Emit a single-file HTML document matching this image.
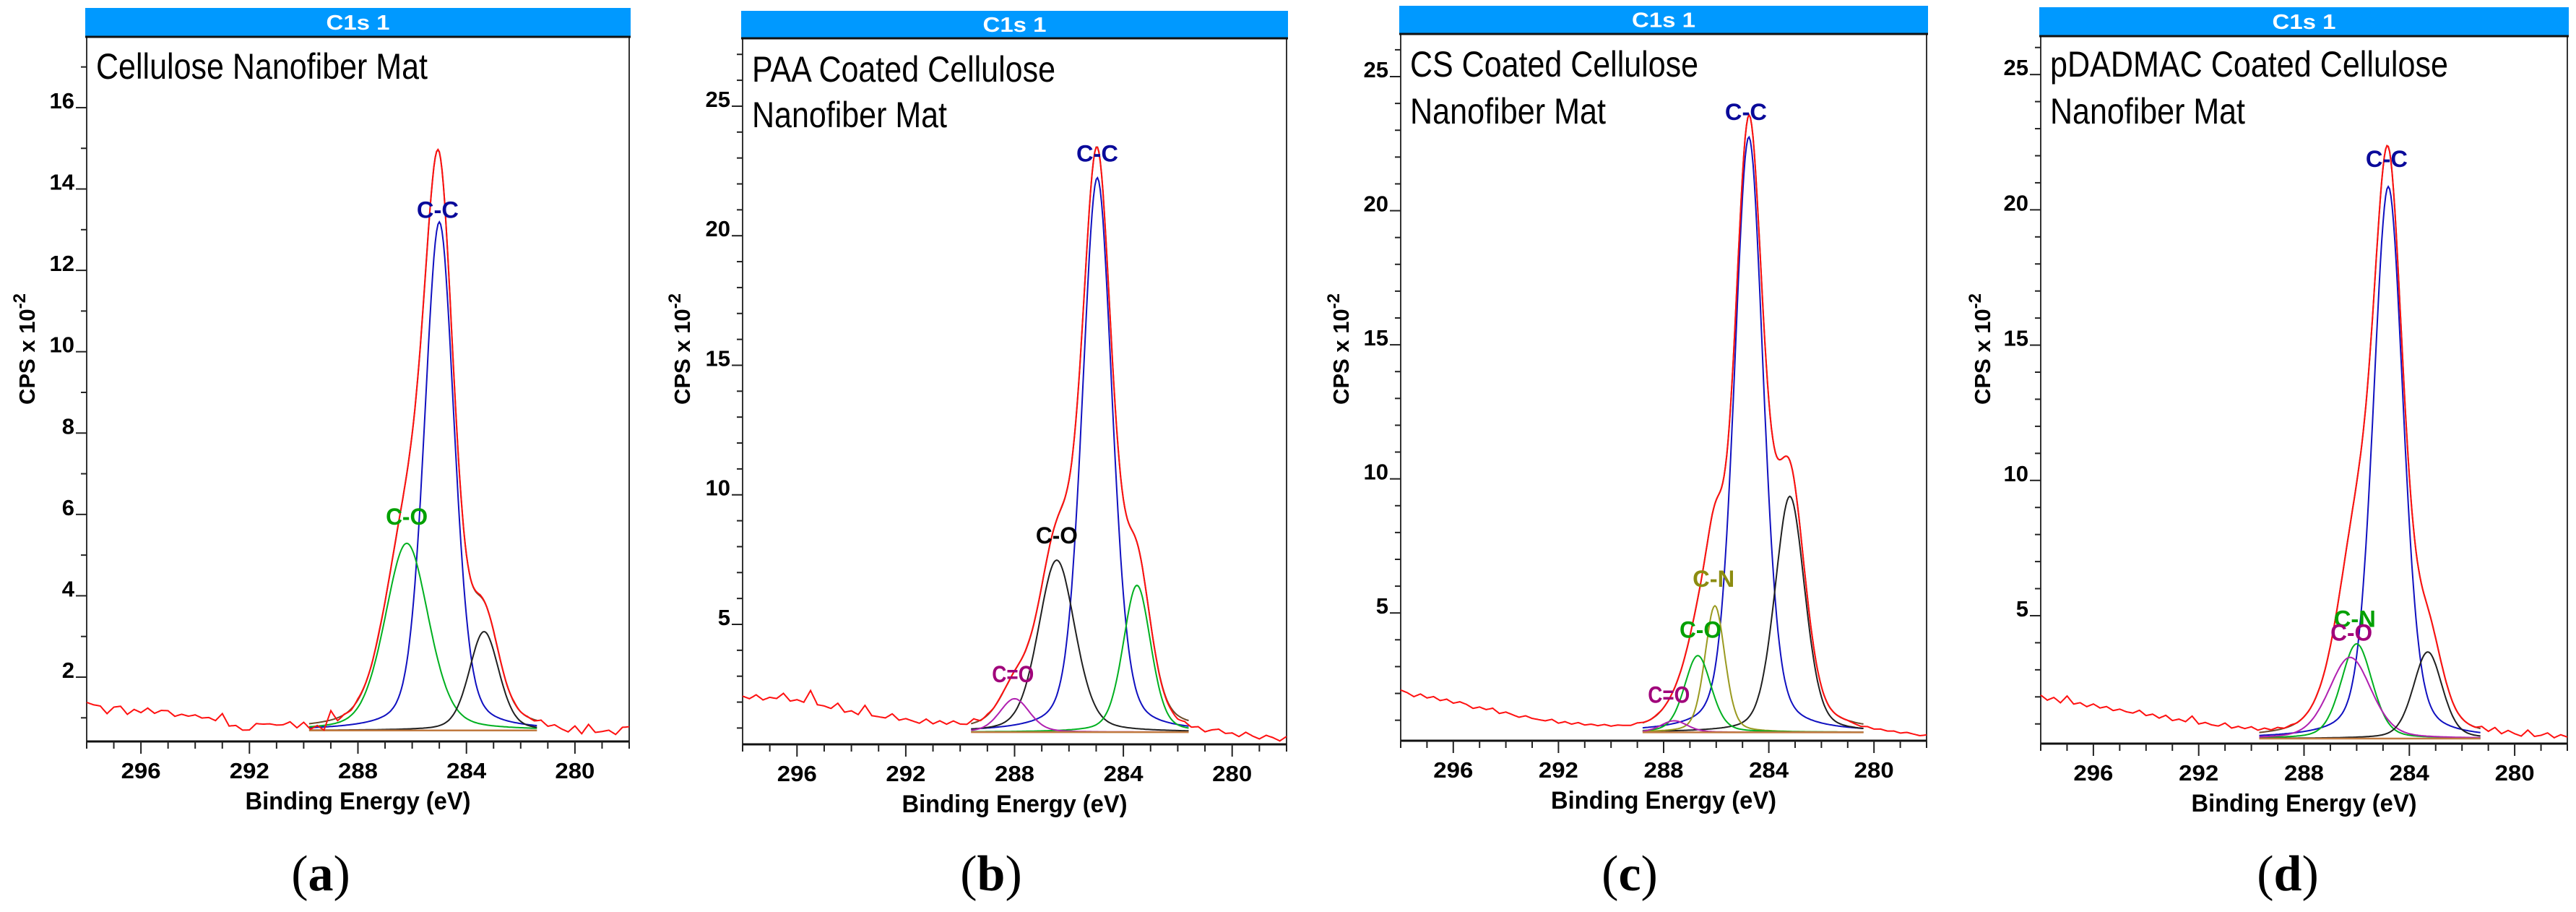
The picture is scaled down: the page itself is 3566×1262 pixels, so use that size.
<!DOCTYPE html>
<html><head><meta charset="utf-8"><style>
html,body{margin:0;padding:0;background:#fff}
svg{display:block}
</style></head><body>
<svg id="chart" xmlns="http://www.w3.org/2000/svg" width="3566" height="1262" viewBox="0 0 3566 1262" font-family="Liberation Sans, Arial, sans-serif"></svg>
<script>
// ---------- DATA ----------
const panelLetters = ["a","b","c","d"];
const titlesLine1 = ["Cellulose Nanofiber Mat","PAA Coated Cellulose","CS Coated Cellulose","pDADMAC Coated Cellulose"];
const titlesLine2 = ["","Nanofiber Mat","Nanofiber Mat","Nanofiber Mat"];
const xTickLabels = [296,292,288,284,280];
const yTicksA = [2,4,6,8,10,12,14,16];
const yTicksB = [5,10,15,20,25];
const yTicksC = [5,10,15,20,25];
const yTicksD = [5,10,15,20,25];

const aPeakNames = ["C-C","C-O","C-x"];
const aCenters = [285.0,286.2,283.35];
const aHeights = [12.5,4.6,2.43];
const aFwhm = [1.3,1.9,1.3];
const aBaseline = [0.69];
const aRange = [289.8,281.4];
const aBackground = [1.36,1.30,1.27,1.08,1.24,1.26,1.06,1.18,1.10,1.21,1.08,1.15,1.14,1.00,1.05,1.00,1.03,0.95,0.96,0.88,1.05,0.74,0.75,0.63,0.63,0.78,0.76,0.76,0.72,0.72,0.78,0.62,0.74,0.55,0.62,0.48,0.92,0.62,0.70,0.66,0.72,
 0.70,0.68,0.72,0.69,0.70,0.71,0.68,0.69,0.70,0.72,0.68,0.70,0.69,0.71,0.70,0.68,0.70,0.72,0.69,0.70,0.70,0.68,0.71,0.69,0.70,0.66,0.72,0.60,0.66,0.58,0.52,0.68,0.50,0.74,0.55,0.58,0.62,0.52,0.70,0.72];

const bPeakNames = ["C-C","C-O","C-x","C=O"];
const bCenters = [284.96,286.45,283.5,288.0];
const bHeights = [21.4,6.64,5.67,1.29];
const bFwhm = [1.3,1.6,1.2,1.3];
const bBaseline = [0.84];
const bRange = [289.6,281.6];
const bBackground = [2.20,2.10,2.25,2.05,2.15,2.10,2.30,2.00,2.05,1.95,2.40,1.85,1.80,1.70,1.90,1.55,1.60,1.45,1.80,1.40,1.35,1.30,1.45,1.20,1.25,1.15,1.05,1.20,1.00,1.10,0.95,1.05,0.90,0.85,1.00,0.82,0.88,0.84,0.86,0.83,0.85,
 0.84,0.86,0.83,0.85,0.84,0.84,0.86,0.83,0.84,0.85,0.84,0.83,0.85,0.84,0.86,0.84,0.83,0.85,0.84,0.84,0.82,0.80,0.78,0.70,0.75,0.62,0.70,0.55,0.66,0.72,0.58,0.62,0.50,0.68,0.55,0.45,0.60,0.52,0.40,0.58];

const cPeakNames = ["C-C","C-x","C-N","C-O","C=O"];
const cCenters = [284.76,283.2,286.05,286.7,287.6];
const cHeights = [22.2,8.8,4.72,2.86,0.43];
const cFwhm = [1.3,1.35,0.9,1.2,1.2];
const cBaseline = [0.55];
const cRange = [288.8,280.4];
const cBackground = [2.10,2.00,1.85,1.95,1.80,1.85,1.70,1.75,1.60,1.65,1.55,1.40,1.45,1.35,1.40,1.20,1.25,1.15,1.05,1.10,1.00,0.95,0.90,0.95,0.80,0.85,0.75,0.80,0.70,0.72,0.65,0.68,0.60,0.62,0.58,0.55,0.60,0.56,0.55,0.57,0.55,
 0.55,0.56,0.55,0.54,0.55,0.56,0.55,0.55,0.54,0.55,0.56,0.55,0.55,0.54,0.55,0.56,0.55,0.55,0.55,0.54,0.55,0.56,0.55,0.55,0.54,0.55,0.56,0.55,0.50,0.45,0.48,0.42,0.45,0.40,0.42,0.36,0.40,0.35,0.30,0.34];

const dPeakNames = ["C-C","C-N","C-O","C-x"];
const dCenters = [284.8,286.0,286.25,283.3];
const dHeights = [20.4,3.5,3.0,3.2];
const dFwhm = [1.35,1.4,1.9,1.3];
const dBaseline = [0.46];
const dRange = [289.7,281.3];
const dBackground = [2.04,1.85,1.95,1.75,2.00,1.70,1.75,1.60,1.70,1.55,1.60,1.45,1.50,1.40,1.35,1.45,1.25,1.30,1.15,1.25,1.05,1.10,1.00,1.20,0.90,0.95,0.85,0.80,0.90,0.70,0.75,0.65,0.70,0.55,0.60,0.50,0.55,0.46,0.50,0.45,0.46,
 0.46,0.47,0.45,0.46,0.46,0.47,0.46,0.45,0.46,0.46,0.47,0.46,0.46,0.45,0.46,0.46,0.47,0.46,0.46,0.45,0.46,0.46,0.45,0.47,0.46,0.45,0.55,0.42,0.60,0.40,0.55,0.45,0.38,0.62,0.40,0.45,0.55,0.38,0.50,0.42];

const aLabelPos = [[285.06,13.5],[286.2,5.96]];
const bLabelPos = [[284.96,23.2],[286.45,8.46],null,[288.06,3.1]];
const cLabelPos = [[284.87,23.7],null,[286.1,6.3],[286.6,4.4],[287.8,1.98]];
const dLabelPos = [[284.86,21.9],[286.07,4.9],[286.2,4.4],null];

// ---------- STYLE / GEOMETRY ----------
const panels = [
 {names:aPeakNames,cen:aCenters,h:aHeights,w:aFwhm,base:aBaseline,range:aRange,bg:aBackground,lab:aLabelPos,ticks:yTicksA,
  colors:["#1010c0","#00b020","#202020"],labColors:["#0a0a9a","#00a000"],
  L:120,R:871,T:51,B:1026,vmin:0.419,vmax:17.74,hT:11,minor:1,yl:38,letterX:444,tw1:459,tw2:0,tb1:109,tb2:0},
 {names:bPeakNames,cen:bCenters,h:bHeights,w:bFwhm,base:bBaseline,range:bRange,bg:bBackground,lab:bLabelPos,ticks:yTicksB,
  colors:["#1010c0","#202020","#00b020","#b020b0"],labColors:["#0a0a9a","#000000",null,"#a0007a"],
  L:1028,R:1781,T:53,B:1030,vmin:0.37,vmax:27.62,hT:15,minor:1,yl:945,letterX:1372,tw1:420,tw2:270,tb1:113,tb2:176},
 {names:cPeakNames,cen:cCenters,h:cHeights,w:cFwhm,base:cBaseline,range:cRange,bg:cBackground,lab:cLabelPos,ticks:yTicksC,
  colors:["#1010c0","#202020","#9a9a20","#00b020","#b020b0"],labColors:["#0a0a9a",null,"#8c8c10","#00a000","#a0007a"],
  L:1939,R:2667,T:47,B:1025,vmin:0.236,vmax:26.59,hT:8,minor:1,yl:1857,letterX:2256,tw1:399,tw2:271,tb1:106,tb2:171},
 {names:dPeakNames,cen:dCenters,h:dHeights,w:dFwhm,base:dBaseline,range:dRange,bg:dBackground,lab:dLabelPos,ticks:yTicksD,
  colors:["#1010c0","#00b020","#b020b0","#202020"],labColors:["#0a0a9a","#00a000","#a0007a",null],
  L:2825,R:3554,T:50,B:1029,vmin:0.272,vmax:26.42,hT:10,minor:1,yl:2745,letterX:3167,tw1:551,tw2:270,tb1:106,tb2:171}
];
const EMAX=298, EMIN=278;

const NS='http://www.w3.org/2000/svg';
const svg=document.getElementById('chart');
function mk(tag,attrs,parent){const e=document.createElementNS(NS,tag);for(const k in attrs)e.setAttribute(k,attrs[k]);(parent||svg).appendChild(e);return e;}
function peakVal(c,h,w,e){const d=e-c;const q=4*d*d/(w*w);return h*(0.7*Math.exp(-Math.LN2*q)+0.3/(1+q));}
function bgAt(bg,e){const step=(EMAX-EMIN)/(bg.length-1);const f=(EMAX-e)/step;const i=Math.max(0,Math.min(bg.length-2,Math.floor(f)));const t=f-i;return bg[i]*(1-t)+bg[i+1]*t;}

panels.forEach((p,pi)=>{
 const g=mk('g',{});
 
 
 const xs=e=>p.L+(EMAX-e)/(EMAX-EMIN)*(p.R-p.L);
 const ys=v=>p.B-(v-p.vmin)/(p.vmax-p.vmin)*(p.B-p.T);
 const hdr=mk('rect',{x:p.L-2,y:p.hT,width:p.R-p.L+4,height:p.T-p.hT,fill:'#0099ff'},g);
 
 
 const ht=mk('text',{x:(p.L+p.R)/2,y:p.hT+(p.T-p.hT)/2+10,'text-anchor':'middle','font-size':29,'font-weight':'bold',fill:'#fff',textLength:88,lengthAdjust:'spacingAndGlyphs'},g);
 ht.textContent='C1s 1';
 
 
 const fr=mk('rect',{x:p.L,y:p.T,width:p.R-p.L,height:p.B-p.T,fill:'none',stroke:'#333',"stroke-width":2},g);
 
 
 mk('line',{x1:p.L-2,y1:p.T,x2:p.R+2,y2:p.T,stroke:'#111',"stroke-width":3},g);
 mk('line',{x1:p.L,y1:p.B,x2:p.R,y2:p.B,stroke:'#111',"stroke-width":3},g);
 const t1=mk('text',{x:p.L+13,y:p.tb1,'font-size':50,fill:'#000',textLength:p.tw1,lengthAdjust:'spacingAndGlyphs'},g);
 t1.textContent=titlesLine1[pi];
 
 
 if(titlesLine2[pi]){
  const t2=mk('text',{x:p.L+13,y:p.tb2,'font-size':50,fill:'#000',textLength:p.tw2,lengthAdjust:'spacingAndGlyphs'},g);
  t2.textContent=titlesLine2[pi];
  
  
 }
 for(let v=Math.ceil(p.vmin);v<=p.vmax;v+=p.minor){
  const major=p.ticks.indexOf(v)>=0;
  const yy=ys(v);
  mk('line',{x1:p.L-(major?15:8),y1:yy,x2:p.L,y2:yy,stroke:'#222',"stroke-width":2},g);
 }
 p.ticks.forEach(v=>{
  const tl=mk('text',{x:p.L-17,y:ys(v)+1,'text-anchor':'end','font-size':31,'font-weight':'bold',fill:'#000'},g);
  tl.textContent=v;
  
  
 });
 for(let e=EMAX;e>=EMIN;e-=1){
  const major=xTickLabels.indexOf(e)>=0;
  mk('line',{x1:xs(e),y1:p.B,x2:xs(e),y2:p.B+(major?17:10),stroke:'#222',"stroke-width":2},g);
 }
 xTickLabels.forEach(e=>{
  const tl=mk('text',{x:xs(e),y:p.B+51,'text-anchor':'middle','font-size':31,'font-weight':'bold',fill:'#000',textLength:55,lengthAdjust:'spacingAndGlyphs'},g);
  tl.textContent=e;
  
  
 });
 const xt=mk('text',{x:(p.L+p.R)/2,y:p.B+94,'text-anchor':'middle','font-size':34,'font-weight':'bold',fill:'#000',textLength:312,lengthAdjust:'spacingAndGlyphs'},g);
 xt.textContent='Binding Energy (eV)';
 
 
 const yt=mk('text',{x:0,y:0,'text-anchor':'middle','font-size':31,'font-weight':'bold',fill:'#000',transform:'translate('+(p.yl+10)+',483) rotate(-90)'},g);
 
 
 const s1=mk('tspan',{},yt); s1.textContent='CPS x 10';
 const s2=mk('tspan',{dy:-13,'font-size':24},yt); s2.textContent='-2';
 const lt=mk('text',{x:p.letterX,y:1232,'text-anchor':'middle','font-size':70,fill:'#000',style:'font-family:"Liberation Serif","DejaVu Serif",serif'},g);
 
 
 const l1=mk('tspan',{},lt); l1.textContent='(';
 const l2=mk('tspan',{'font-weight':'bold'},lt); l2.textContent=panelLetters[pi];
 const l3=mk('tspan',{},lt); l3.textContent=')';

 const base=p.base[0];
 const n=p.cen.length;
 p.cen.forEach((c,k)=>{
  let pts=[];
  for(let e=p.range[0];e>=p.range[1]-1e-9;e-=0.05){pts.push(xs(e).toFixed(1)+','+ys(base+peakVal(c,p.h[k],p.w[k],e)).toFixed(1));}
  const pl=mk('polyline',{points:pts.join(' '),fill:'none',stroke:p.colors[k],"stroke-width":2},g);
  
  
 });
 let env=[];
 for(let e=p.range[0];e>=p.range[1]-1e-9;e-=0.05){let s=base;for(let k=0;k<n;k++)s+=peakVal(p.cen[k],p.h[k],p.w[k],e);env.push(xs(e).toFixed(1)+','+ys(s).toFixed(1));}
 const ev=mk('polyline',{points:env.join(' '),fill:'none',stroke:'#6b4a2a',"stroke-width":2},g);
 
 
 const bl=mk('line',{x1:xs(p.range[0]),y1:ys(base),x2:xs(p.range[1]),y2:ys(base),stroke:'#c07a40',"stroke-width":2.5},g);
 
 
 let raw=[];
 for(let e=EMAX;e>=EMIN-1e-9;e-=0.05){let s=bgAt(p.bg,e);for(let k=0;k<n;k++)s+=peakVal(p.cen[k],p.h[k],p.w[k],e);raw.push(xs(e).toFixed(1)+','+ys(Math.max(p.vmin,s)).toFixed(1));}
 const rw=mk('polyline',{points:raw.join(' '),fill:'none',stroke:'#ff1010',"stroke-width":2},g);
 
 
 p.lab.forEach((pos,k)=>{
  if(!pos)return;
  const tx=mk('text',{x:xs(pos[0]),y:ys(pos[1])+12,'text-anchor':'middle','font-size':32,'font-weight':'bold',fill:p.labColors[k],textLength:58,lengthAdjust:'spacingAndGlyphs'},g);
  tx.textContent=p.names[k];
  
  
 });
});
</script>
</body></html>
